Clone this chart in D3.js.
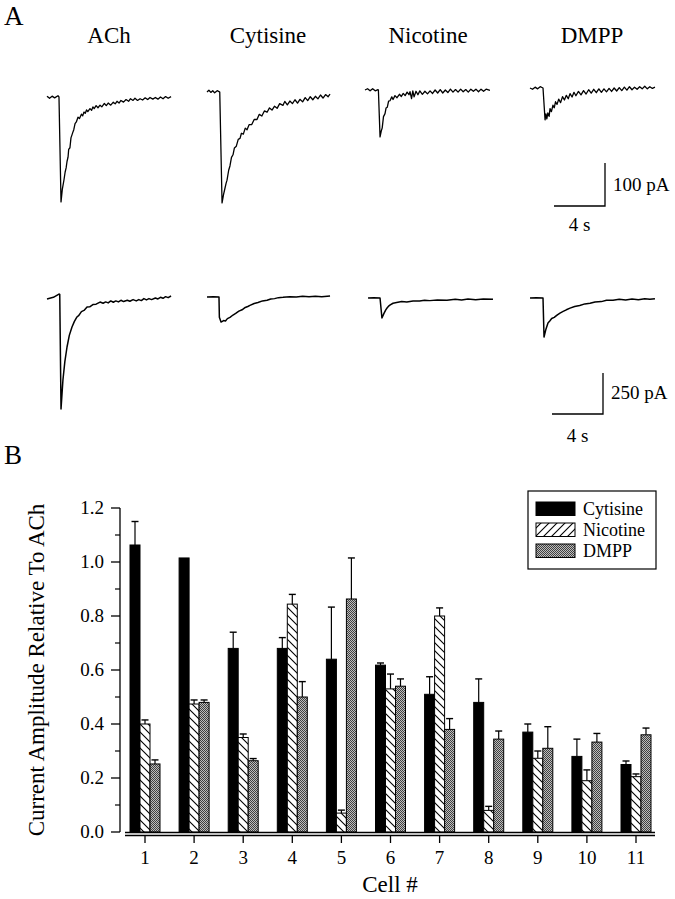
<!DOCTYPE html>
<html><head><meta charset="utf-8">
<script src="https://cdn.jsdelivr.net/npm/d3@7"></script>
<style>
body{margin:0;background:#fff}
svg{display:block}
text{font-family:"Liberation Serif","Times New Roman",Times,serif;fill:#000}
</style>
</head><body>
<svg id="c" width="675" height="899"></svg>
<script>
// ---------- Panel A data: current traces [time (s), current (pA)] ----------
const agonists = ["ACh", "Cytisine", "Nicotine", "DMPP"];
const topACh = [[0,2],[0.2,-3],[0.4,2],[0.6,-2],[0.86,3],[0.94,0],[1.10,-244],[1.2,-215],[1.33,-193],[1.42,-175],[1.50,-165],[1.57,-150],[1.65,-140],[1.70,-122],[1.80,-118],[1.88,-95],[1.96,-88],[2.05,-80],[2.1,-76],[2.20,-62],[2.3,-58],[2.43,-47],[2.55,-50],[2.7,-40],[2.80,-44],[2.90,-35],[3.0,-38],[3.1,-30],[3.2,-34],[3.37,-27],[3.5,-31],[3.6,-23],[3.7,-27],[3.85,-20],[4.0,-25],[4.16,-19],[4.3,-23],[4.5,-15],[4.65,-20],[4.8,-14],[5.0,-19],[5.2,-12],[5.35,-16],[5.49,-10],[5.65,-14],[5.8,-8],[6.0,-12],[6.2,-6],[6.4,-10],[6.55,-4],[6.75,-8],[6.9,-3],[7.1,-8],[7.3,-4],[7.5,-7],[7.7,-2],[7.9,-6],[8.08,-1],[8.3,-5],[8.5,-1],[8.7,-5],[8.9,0],[9.1,-4],[9.3,1],[9.5,-3],[9.73,1]];
const topCyt = [[0,0],[0.15,4],[0.3,-1],[0.45,3],[0.6,-2],[0.8,3],[0.94,1],[1.0,0],[1.18,-258],[1.3,-238],[1.4,-225],[1.5,-212],[1.57,-205],[1.7,-182],[1.8,-172],[1.92,-152],[2.04,-146],[2.15,-130],[2.3,-126],[2.45,-110],[2.59,-108],[2.7,-96],[2.85,-98],[3.0,-84],[3.14,-88],[3.3,-76],[3.5,-76],[3.7,-64],[3.92,-64],[4.1,-52],[4.3,-56],[4.5,-44],[4.71,-47],[4.9,-37],[5.1,-42],[5.3,-33],[5.5,-38],[5.7,-27],[5.96,-31],[6.1,-22],[6.3,-30],[6.5,-21],[6.7,-27],[6.9,-18],[7.1,-26],[7.29,-17],[7.5,-23],[7.7,-13],[7.9,-20],[8.1,-11],[8.3,-18],[8.5,-10],[8.7,-16],[8.9,-7],[9.1,-14],[9.3,-6],[9.5,-11],[9.65,-5]];
const topNic = [[0,0],[0.2,3],[0.4,-2],[0.6,3],[0.8,-2],[1.02,1],[1.05,0],[1.18,-109],[1.27,-96],[1.35,-88],[1.45,-62],[1.57,-55],[1.65,-42],[1.75,-40],[1.85,-26],[1.96,-25],[2.1,-16],[2.2,-22],[2.35,-13],[2.51,-18],[2.7,-10],[2.85,-15],[3.0,-8],[3.15,-13],[3.3,-5],[3.45,-11],[3.53,-4],[3.65,-20],[3.75,-2],[3.85,-16],[4.0,-3],[4.15,-11],[4.3,-2],[4.5,-10],[4.7,-3],[4.9,-9],[5.10,-2],[5.3,-8],[5.5,0],[5.7,-7],[5.9,1],[6.1,-7],[6.3,0],[6.5,-6],[6.7,2],[6.9,-5],[7.1,1],[7.3,-5],[7.5,2],[7.7,-4],[7.9,1],[8.1,-5],[8.3,2],[8.5,-3],[8.7,2],[8.9,-4],[9.1,2],[9.3,-3],[9.5,2],[9.80,-1]];
const topDMPP = [[0,0],[0.2,-3],[0.4,2],[0.6,-2],[0.8,3],[1.02,0],[1.18,-74],[1.25,-60],[1.32,-72],[1.4,-58],[1.5,-66],[1.57,-48],[1.68,-55],[1.8,-40],[1.9,-46],[2.0,-32],[2.12,-38],[2.25,-26],[2.4,-34],[2.55,-20],[2.7,-28],[2.85,-17],[3.0,-25],[3.14,-13],[3.3,-21],[3.45,-10],[3.6,-18],[3.8,-8],[4.0,-16],[4.2,-6],[4.4,-14],[4.6,-4],[4.8,-12],[5.0,-3],[5.2,-11],[5.4,-2],[5.6,-10],[5.8,-2],[6.0,-9],[6.2,-1],[6.4,-8],[6.6,0],[6.8,-7],[7.0,1],[7.2,-6],[7.4,2],[7.6,-5],[7.8,3],[8.0,-4],[8.2,2],[8.4,-3],[8.6,3],[8.8,-2],[9.0,4],[9.2,-2],[9.4,3],[9.6,-1],[9.80,2]];
const botACh = [[0,-18],[0.5,-8],[0.94,12],[1.0,10],[1.10,-689],[1.25,-512],[1.4,-400],[1.57,-311],[1.75,-240],[1.96,-189],[2.15,-155],[2.35,-128],[2.5,-118],[2.7,-95],[2.9,-88],[3.14,-67],[3.35,-66],[3.6,-52],[3.85,-50],[4.16,-37],[4.4,-44],[4.6,-36],[4.8,-42],[5.0,-30],[5.2,-38],[5.4,-30],[5.6,-36],[5.8,-26],[6.0,-34],[6.3,-26],[6.5,-32],[6.75,-22],[7.0,-30],[7.2,-22],[7.4,-28],[7.6,-16],[7.8,-24],[8.0,-16],[8.2,-22],[8.5,-12],[8.7,-18],[8.9,-8],[9.1,-14],[9.3,-4],[9.5,-10],[9.73,0]];
const botCyt = [[0,-6],[0.5,-4],[0.94,-6],[0.97,-130],[1.10,-159],[1.3,-150],[1.45,-152],[1.6,-138],[1.8,-130],[2.04,-116],[2.25,-106],[2.5,-92],[2.75,-84],[3.0,-70],[3.2,-64],[3.37,-57],[3.7,-46],[4.0,-40],[4.35,-30],[4.71,-26],[5.0,-18],[5.3,-16],[5.6,-10],[5.96,-8],[6.5,-4],[7.0,-6],[7.5,-2],[8.0,-4],[8.5,-1],[9.0,-4],[9.65,0]];
const botNic = [[0.16,0],[0.6,2],[1.10,0],[1.25,-122],[1.4,-95],[1.55,-72],[1.65,-61],[1.8,-48],[1.9,-42],[2.12,-32],[2.4,-28],[2.8,-22],[3.2,-24],[3.69,-18],[4.2,-18],[4.6,-14],[5.0,-16],[5.6,-12],[6.35,-14],[7.0,-8],[7.5,-12],[8.0,-6],[8.6,-10],[9.2,-6],[9.96,-8]];
const botDMPP = [[0,0],[0.5,2],[1.02,0],[1.10,-238],[1.25,-190],[1.41,-152],[1.55,-140],[1.7,-125],[1.9,-118],[2.12,-104],[2.35,-92],[2.6,-82],[2.85,-72],[3.14,-62],[3.5,-52],[3.9,-46],[4.3,-36],[4.71,-32],[5.1,-24],[5.6,-22],[6.0,-14],[6.51,-14],[7.0,-8],[7.5,-12],[8.0,-6],[8.5,-10],[9.0,-4],[9.4,-8],[9.80,-4]];
const topScale = {pA: 100, s: 4};
const botScale = {pA: 250, s: 4};

// ---------- Panel B data ----------
const cells = [1,2,3,4,5,6,7,8,9,10,11];
const seriesNames = ["Cytisine", "Nicotine", "DMPP"];
const cytisine    = [1.063, 1.015, 0.68, 0.68, 0.64, 0.618, 0.51, 0.48, 0.37, 0.28, 0.25];
const cytisineErr = [0.087, 0,     0.06, 0.04, 0.193, 0.008, 0.065, 0.087, 0.03, 0.064, 0.013];
const nicotine    = [0.40, 0.474, 0.35, 0.844, 0.07, 0.53, 0.80, 0.08, 0.273, 0.19, 0.205];
const nicotineErr = [0.015, 0.015, 0.013, 0.036, 0.011, 0.055, 0.03, 0.015, 0.027, 0.04, 0.01];
const dmpp        = [0.252, 0.48, 0.264, 0.50, 0.863, 0.54, 0.38, 0.344, 0.31, 0.333, 0.36];
const dmppErr     = [0.015, 0.009, 0.008, 0.057, 0.152, 0.027, 0.04, 0.03, 0.08, 0.032, 0.025];
const yTicks = [0, 0.2, 0.4, 0.6, 0.8, 1.0, 1.2];
const yMinorTicks = [0.1, 0.3, 0.5, 0.7, 0.9, 1.1];

// ---------- layout ----------
const svg = d3.select("#c");
const defs = svg.append("defs");

// patterns
const hb = defs.append("pattern").attr("id","hatchBar").attr("patternUnits","userSpaceOnUse").attr("width",8).attr("height",8);
hb.append("rect").attr("width",8).attr("height",8).attr("fill","#fff");
hb.append("path").attr("d","M0,0L8,8M-2,6L2,10M6,-2L10,2").attr("stroke","#000").attr("stroke-width",1.1);
const hl = defs.append("pattern").attr("id","hatchLeg").attr("patternUnits","userSpaceOnUse").attr("width",8).attr("height",8);
hl.append("rect").attr("width",8).attr("height",8).attr("fill","#fff");
hl.append("path").attr("d","M0,8L8,0M-2,2L2,-2M6,10L10,6").attr("stroke","#000").attr("stroke-width",1.1);
const dp = defs.append("pattern").attr("id","dots").attr("patternUnits","userSpaceOnUse").attr("width",2).attr("height",2);
dp.append("rect").attr("width",2).attr("height",2).attr("fill","#bdbdbd");
dp.append("rect").attr("width",1).attr("height",1).attr("fill","#404040");
dp.append("rect").attr("x",1).attr("y",1).attr("width",1).attr("height",1).attr("fill","#404040");

// panel letters
svg.append("text").attr("x",4).attr("y",25).attr("font-size",27).text("A");
svg.append("text").attr("x",4).attr("y",464).attr("font-size",27).text("B");

// titles
const titleX = [109, 268, 428, 592];
agonists.forEach((a,i)=>{
  svg.append("text").attr("x",titleX[i]).attr("y",43).attr("text-anchor","middle").attr("font-size",23).text(a);
});

// traces
const pxPerSec = 12.75;
const rows = [
  {traces:[topACh, topCyt, topNic, topDMPP], x0:[47,207,365,530], base:[97,92,90,88], pxPer100:43, scale: topScale, bar:{x:605, y:206}, label:"100 pA", sLabelY:231, pLabelY:191, sw:1.3},
  {traces:[botACh, botCyt, botNic, botDMPP], x0:[47,207,366,530], base:[296,296,298,298], pxPer100:16.4, scale: botScale, bar:{x:603, y:414}, label:"250 pA", sLabelY:442, pLabelY:399, sw:1.5}
];
rows.forEach(r=>{
  r.traces.forEach((tr,i)=>{
    const x = d3.scaleLinear().domain([0,1]).range([r.x0[i], r.x0[i]+pxPerSec]);
    const y = d3.scaleLinear().domain([0,-100]).range([r.base[i], r.base[i]+r.pxPer100]);
    svg.append("path").datum(tr)
      .attr("d", d3.line().x(d=>x(d[0])).y(d=>y(d[1])))
      .attr("fill","none").attr("stroke","#000").attr("stroke-width",r.sw).attr("stroke-linejoin","round");
  });
  // scale bar
  const sx = d3.scaleLinear().domain([0,1]).range([0,pxPerSec]);
  const sy = d3.scaleLinear().domain([0,100]).range([0,r.pxPer100]);
  const w = sx(r.scale.s), h = sy(r.scale.pA);
  svg.append("path").attr("d",`M${r.bar.x-w},${r.bar.y}H${r.bar.x}V${r.bar.y-h}`)
    .attr("fill","none").attr("stroke","#000").attr("stroke-width",1.3);
  svg.append("text").attr("x",r.bar.x+8).attr("y",r.pLabelY).attr("font-size",19).text(r.label);
  svg.append("text").attr("x",r.bar.x-w/2).attr("y",r.sLabelY).attr("text-anchor","middle").attr("font-size",19).text(r.scale.s+" s");
});

// ---------- bar chart ----------
const yS = d3.scaleLinear().domain([0,1.2]).range([832,508]);
const xS = d3.scalePoint().domain(cells).range([145,636]);
const inner = d3.scaleBand().domain(seriesNames).range([-15,15]);
const values = {Cytisine:cytisine, Nicotine:nicotine, DMPP:dmpp};
const errs = {Cytisine:cytisineErr, Nicotine:nicotineErr, DMPP:dmppErr};
const fills = {Cytisine:"#000", Nicotine:"url(#hatchBar)", DMPP:"url(#dots)"};
const legFills = {Cytisine:"#000", Nicotine:"url(#hatchLeg)", DMPP:"url(#dots)"};

const g = svg.append("g");
seriesNames.forEach(s=>{
  cells.forEach((c,i)=>{
    const v = values[s][i], e = errs[s][i];
    const x0 = xS(c)+inner(s), bw = inner.bandwidth();
    const cx = x0 + bw/2;
    if(e>0){
      g.append("line").attr("x1",cx).attr("x2",cx).attr("y1",yS(v)).attr("y2",yS(v+e)).attr("stroke","#000").attr("stroke-width",1.2);
      g.append("line").attr("x1",cx-3.5).attr("x2",cx+3.5).attr("y1",yS(v+e)).attr("y2",yS(v+e)).attr("stroke","#000").attr("stroke-width",1.4);
    }
    g.append("rect").attr("x",x0).attr("y",yS(v)).attr("width",bw).attr("height",yS(0)-yS(v))
      .attr("fill",fills[s]).attr("stroke","#000").attr("stroke-width",1);
  });
});

// y axis
svg.append("line").attr("x1",120).attr("x2",120).attr("y1",yS(1.2)).attr("y2",yS(0)).attr("stroke","#000").attr("stroke-width",1.3);
yTicks.forEach(t=>{
  svg.append("line").attr("x1",111).attr("x2",120).attr("y1",yS(t)).attr("y2",yS(t)).attr("stroke","#000").attr("stroke-width",1.3);
  svg.append("text").attr("x",104).attr("y",yS(t)+6).attr("text-anchor","end").attr("font-size",19).text(t.toFixed(1));
});
yMinorTicks.forEach(t=>{
  svg.append("line").attr("x1",115).attr("x2",120).attr("y1",yS(t)).attr("y2",yS(t)).attr("stroke","#000").attr("stroke-width",1.2);
});
// x axis (double line)
svg.append("line").attr("x1",125).attr("x2",655).attr("y1",yS(0)+0.5).attr("y2",yS(0)+0.5).attr("stroke","#000").attr("stroke-width",1.3);
svg.append("line").attr("x1",125).attr("x2",655).attr("y1",yS(0)+3.5).attr("y2",yS(0)+3.5).attr("stroke","#000").attr("stroke-width",1.3);
cells.forEach(c=>{
  svg.append("line").attr("x1",xS(c)).attr("x2",xS(c)).attr("y1",yS(0)+4).attr("y2",yS(0)+11).attr("stroke","#000").attr("stroke-width",1.3);
  svg.append("text").attr("x",xS(c)).attr("y",864).attr("text-anchor","middle").attr("font-size",19).text(c);
});
svg.append("text").attr("x",390).attr("y",892).attr("text-anchor","middle").attr("font-size",23).text("Cell #");
svg.append("text").attr("transform","translate(44,670) rotate(-90)").attr("text-anchor","middle").attr("font-size",23).text("Current Amplitude Relative To ACh");

// legend
svg.append("rect").attr("x",528).attr("y",491).attr("width",128).attr("height",78).attr("fill","#fff").attr("stroke","#000").attr("stroke-width",1.2);
seriesNames.forEach((s,i)=>{
  const yy = 502 + i*21;
  svg.append("rect").attr("x",536).attr("y",yy).attr("width",39).attr("height",13.5).attr("fill",legFills[s]).attr("stroke","#000").attr("stroke-width",1);
  svg.append("text").attr("x",583).attr("y",yy+12.5).attr("font-size",18).text(s);
});
</script>
</body></html>
